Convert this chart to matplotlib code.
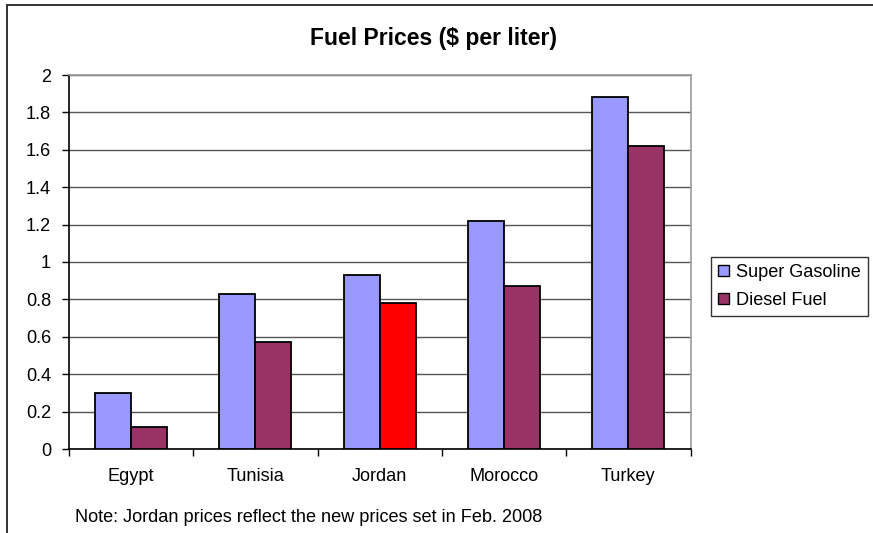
import matplotlib
matplotlib.use("Agg")
import matplotlib.pyplot as plt
import numpy as np
from matplotlib.patches import Rectangle, Patch

plt.rcParams['font.family'] = ['Liberation Sans', 'DejaVu Sans']

countries = ["Egypt", "Tunisia", "Jordan", "Morocco", "Turkey"]
super_gasoline = [0.30, 0.83, 0.93, 1.22, 1.88]
diesel_fuel = [0.12, 0.57, 0.78, 0.87, 1.62]
series_names = ["Super Gasoline", "Diesel Fuel"]
yticks = [0, 0.2, 0.4, 0.6, 0.8, 1, 1.2, 1.4, 1.6, 1.8, 2]
ytick_labels = ["0", "0.2", "0.4", "0.6", "0.8", "1", "1.2", "1.4", "1.6", "1.8", "2"]
title = "Fuel Prices ($ per liter)"
note = "Note: Jordan prices reflect the new prices set in Feb. 2008"
highlight_country = "Jordan"

C_SUPER = "#9999FF"
C_DIESEL = "#993366"
C_HIGHLIGHT = "#FF0000"
FS = 13.1

W, H = 873, 533
fig = plt.figure(figsize=(W / 100, H / 100), dpi=100)
ax = fig.add_axes([69 / W, 1 - 449 / H, (690.5 - 69) / W, (449 - 75) / H])

x = np.arange(len(countries))
bw = 0.29
diesel_colors = [C_HIGHLIGHT if c == highlight_country else C_DIESEL for c in countries]
ax.bar(x - bw / 2, super_gasoline, bw, color=C_SUPER, edgecolor="black", linewidth=1.3, zorder=3)
ax.bar(x + bw / 2, diesel_fuel, bw, color=diesel_colors, edgecolor="black", linewidth=1.3, zorder=3)

ax.set_xlim(-0.5, len(countries) - 0.5)
ax.set_ylim(0, 2)
ax.set_yticks(yticks)
ax.set_yticklabels(ytick_labels)
ax.yaxis.grid(True, color="#555555", linewidth=1.0, zorder=0)
ax.set_axisbelow(True)

ax.set_xticks(x)
ax.set_xticklabels(countries)
ax.tick_params(axis="x", length=0, pad=14, labelsize=FS)
ax.set_xticks(np.arange(len(countries) + 1) - 0.5, minor=True)
ax.tick_params(axis="x", which="minor", length=5, width=1, direction="out", color="black")
ax.tick_params(axis="y", length=5, width=1, direction="out", pad=8, labelsize=FS)

for s in ["left", "bottom"]:
    ax.spines[s].set_color("black")
    ax.spines[s].set_linewidth(1.2)
for s in ["top", "right"]:
    ax.spines[s].set_color("#999999")
    ax.spines[s].set_linewidth(1.2)

fig.text(434 / W, 1 - 38 / H, title, ha="center", va="center", fontsize=16.5, fontweight="bold")
fig.text(75 / W, 1 - 517 / H, note, ha="left", va="center", fontsize=FS)

handles = [Patch(facecolor=C_SUPER, edgecolor="black", linewidth=1.0),
           Patch(facecolor=C_DIESEL, edgecolor="black", linewidth=1.0)]
leg = fig.legend(handles, series_names, loc="upper left",
                 bbox_to_anchor=(711 / W, 1 - 256.5 / H), fontsize=FS,
                 frameon=True, fancybox=False, edgecolor="black",
                 handlelength=0.6, handleheight=0.55, handletextpad=0.35,
                 borderpad=0.4, labelspacing=0.6, borderaxespad=0)
leg.get_frame().set_linewidth(1.0)

fig.patches.append(Rectangle((6.5 / W, -0.1), 1.2, 1 - 4.5 / H + 0.1,
                             transform=fig.transFigure, fill=False,
                             edgecolor="#222222", linewidth=1.3))

fig.savefig("out.png", dpi=100)
